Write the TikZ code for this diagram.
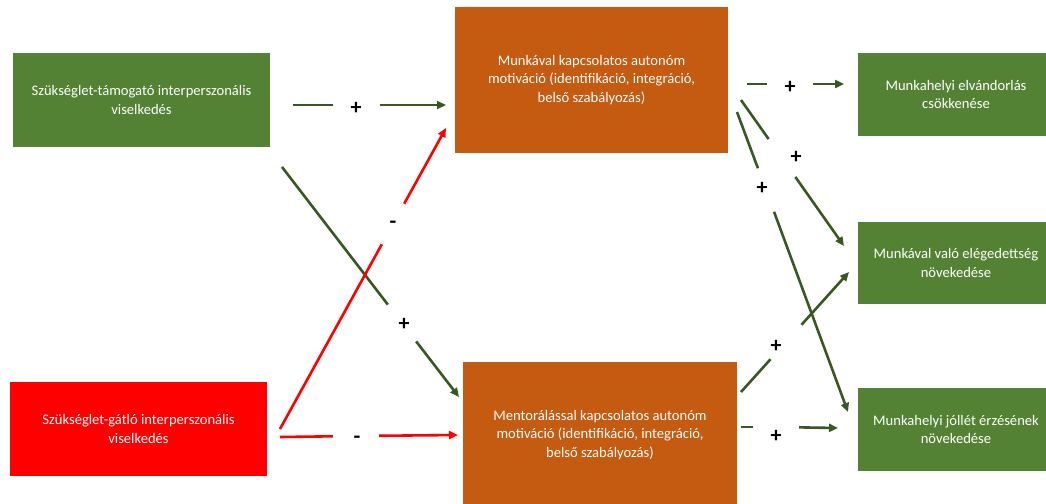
\documentclass[tikz,border=0pt]{standalone}
\usepackage{fontspec}
\setmainfont{Carlito}
\usetikzlibrary{arrows.meta}
\definecolor{boxgreen}{HTML}{548235}
\definecolor{boxorange}{HTML}{C55A11}
\definecolor{boxred}{HTML}{FF0000}
\definecolor{lngreen}{HTML}{385723}
\tikzset{
  box/.style={rectangle, inner sep=0pt, align=center, text=white,
    font=\fontsize{14.6}{18.5}\selectfont},
  gbox/.style={box, fill=boxgreen},
  obox/.style={box, fill=boxorange},
  rbox/.style={box, fill=boxred},
  gap/.style={circle, minimum size=46pt, inner sep=0pt},
  sign/.style={inner sep=0pt, font=\fontsize{22}{22}\selectfont\bfseries},
  gline/.style={draw=lngreen, line width=2.6pt},
  rline/.style={draw=boxred, line width=2.6pt},
  tip/.style={-{Triangle[length=9pt,width=8pt]}}
}
\begin{document}
\begin{tikzpicture}[x=1pt,y=-1pt]
\useasboundingbox (0,0) rectangle (1046,503);
\clip (0,0) rectangle (1046,503);
% boxes
\node[gbox, minimum width=257pt, minimum height=94pt] (A) at (141.5,100)
  {Szükséglet-támogató interperszonális\\viselkedés};
\node[rbox, minimum width=257pt, minimum height=94pt] (B) at (138.5,429)
  {Szükséglet-gátló interperszonális\\viselkedés};
\node[obox, minimum width=273pt, minimum height=146pt] (C) at (591.5,80)
  {Munkával kapcsolatos autonóm\\motiváció (identifikáció, integráció,\\belső szabályozás)};
\node[obox, minimum width=274pt, minimum height=146pt] (D) at (600,435)
  {Mentorálással kapcsolatos autonóm\\motiváció (identifikáció, integráció,\\belső szabályozás)};
\node[gbox, minimum width=196pt, minimum height=83pt] (E) at (956,94.5)
  {Munkahelyi elvándorlás\\csökkenése};
\node[gbox, minimum width=196pt, minimum height=82pt] (F) at (956,263)
  {Munkával való elégedettség\\növekedése};
\node[gbox, minimum width=196pt, minimum height=83pt] (G) at (956,429.5)
  {Munkahelyi jóllét érzésének\\növekedése};
% connector end points
\coordinate (sAC) at (293,105);  \coordinate (eAC) at (446,105);
\coordinate (sAD) at (282,167);  \coordinate (eAD) at (459,397);
\coordinate (sBC) at (280,429);  \coordinate (eBC) at (446,128);
\coordinate (sBD) at (280,437);  \coordinate (eBD) at (458,435);
\coordinate (sCE) at (747,84);   \coordinate (eCE) at (844,84);
\coordinate (sCF) at (741,100);  \coordinate (eCF) at (844,246);
\coordinate (sCG) at (737,112);  \coordinate (eCG) at (848,412);
\coordinate (sDF) at (741,392);  \coordinate (eDF) at (849,272);
\coordinate (sDG) at (741,427);  \coordinate (eDG) at (838,428);
% gaps
\node[gap] (gAC) at (356.5,105) {};
\node[gap] (gAD) at (402,323) {};
\node[gap] (gBC) at (393,224) {};
\node[gap] (gBD) at (356,436) {};
\node[gap] (gCE) at (790,84) {};
\node[gap] (gCF) at (782,158) {};
\node[gap] (gCG) at (766,190) {};
\node[gap] (gDF) at (786,342) {};
\node[gap] (gDG) at (776,427) {};
% signs
\node[sign] (tAC) at (356,108) {+};
\node[sign] (tAD) at (404,324) {+};
\node[sign] (tBC) at (393,225) {-};
\node[sign] (tBD) at (357,440) {-};
\node[sign] (tCE) at (790,87) {+};
\node[sign] (tCF) at (796,157) {+};
\node[sign] (tCG) at (762,188) {+};
\node[sign] (tDF) at (776,346) {+};
\node[sign] (tDG) at (776,436) {+};
% connectors
\draw[gline] (sAC) -- (gAC); \draw[gline,tip] (gAC) -- (eAC);
\draw[gline] (sAD) -- (gAD); \draw[gline,tip] (gAD) -- (eAD);
\draw[rline] (sBC) -- (gBC); \draw[rline,tip] (gBC) -- (eBC);
\draw[rline] (sBD) -- (gBD); \draw[rline,tip] (gBD) -- (eBD);
\draw[gline] (sCE) -- (gCE); \draw[gline,tip] (gCE) -- (eCE);
\draw[gline] (sCF) -- (gCF); \draw[gline,tip] (gCF) -- (eCF);
\draw[gline] (sCG) -- (gCG); \draw[gline,tip] (gCG) -- (eCG);
\draw[gline] (sDF) -- (gDF); \draw[gline,tip] (gDF) -- (eDF);
\draw[gline] (sDG) -- (gDG); \draw[gline,tip] (gDG) -- (eDG);
\end{tikzpicture}
\end{document}
